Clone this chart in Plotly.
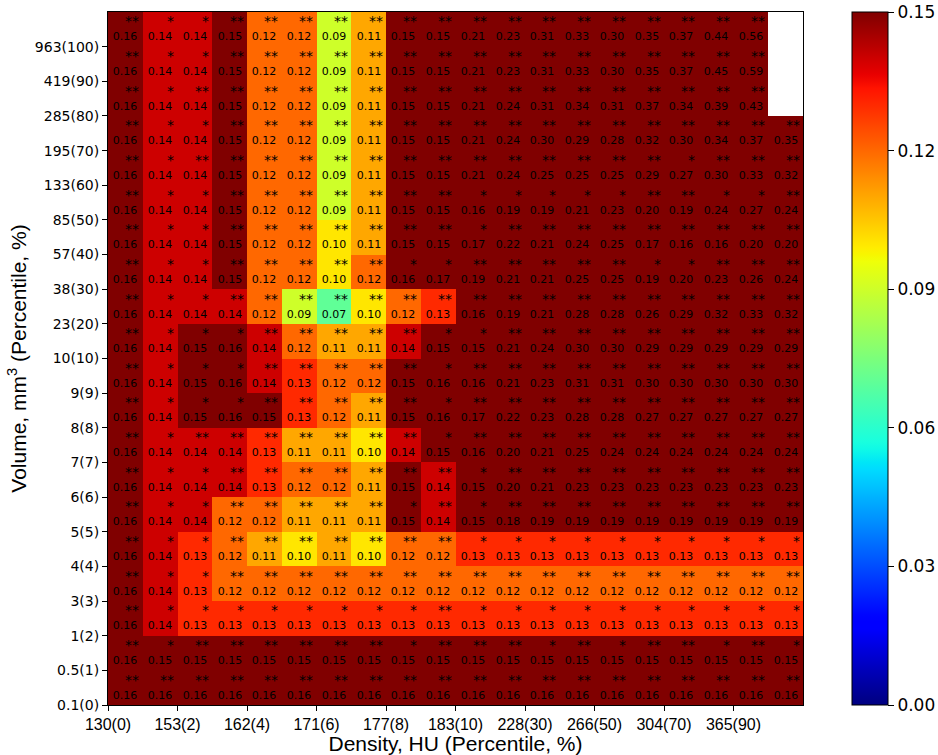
import numpy as np
import plotly.graph_objects as go

x_ticklabels = ["130(0)", "153(2)", "162(4)", "171(6)", "177(8)", "183(10)",
                "228(30)", "266(50)", "304(70)", "365(90)"]
y_ticklabels = ["0.1(0)", "0.5(1)", "1(2)", "3(3)", "4(4)", "5(5)", "6(6)", "7(7)",
                "8(8)", "9(9)", "10(10)", "23(20)", "38(30)", "57(40)", "85(50)",
                "133(60)", "195(70)", "285(80)", "419(90)", "963(100)"]

N = None
# rows listed from top (963(100)) to bottom (0.1(0))
values_top_down = [
    [0.16,0.14,0.14,0.15,0.12,0.12,0.09,0.11,0.15,0.15,0.21,0.23,0.31,0.33,0.30,0.35,0.37,0.44,0.56,N],
    [0.16,0.14,0.14,0.15,0.12,0.12,0.09,0.11,0.15,0.15,0.21,0.23,0.31,0.33,0.30,0.35,0.37,0.45,0.59,N],
    [0.16,0.14,0.14,0.15,0.12,0.12,0.09,0.11,0.15,0.15,0.21,0.24,0.31,0.34,0.31,0.37,0.34,0.39,0.43,N],
    [0.16,0.14,0.14,0.15,0.12,0.12,0.09,0.11,0.15,0.15,0.21,0.24,0.30,0.29,0.28,0.32,0.30,0.34,0.37,0.35],
    [0.16,0.14,0.14,0.15,0.12,0.12,0.09,0.11,0.15,0.15,0.21,0.24,0.25,0.25,0.25,0.29,0.27,0.30,0.33,0.32],
    [0.16,0.14,0.14,0.15,0.12,0.12,0.09,0.11,0.15,0.15,0.16,0.19,0.19,0.21,0.23,0.20,0.19,0.24,0.27,0.24],
    [0.16,0.14,0.14,0.15,0.12,0.12,0.10,0.11,0.15,0.15,0.17,0.22,0.21,0.24,0.25,0.17,0.16,0.16,0.20,0.20],
    [0.16,0.14,0.14,0.15,0.12,0.12,0.10,0.12,0.16,0.17,0.19,0.21,0.21,0.25,0.25,0.19,0.20,0.23,0.26,0.24],
    [0.16,0.14,0.14,0.14,0.12,0.09,0.07,0.10,0.12,0.13,0.16,0.19,0.21,0.28,0.28,0.26,0.29,0.32,0.33,0.32],
    [0.16,0.14,0.15,0.16,0.14,0.12,0.11,0.11,0.14,0.15,0.15,0.21,0.24,0.30,0.30,0.29,0.29,0.29,0.29,0.29],
    [0.16,0.14,0.15,0.16,0.14,0.13,0.12,0.12,0.15,0.16,0.16,0.21,0.23,0.31,0.31,0.30,0.30,0.30,0.30,0.30],
    [0.16,0.14,0.15,0.16,0.15,0.13,0.12,0.11,0.15,0.16,0.17,0.22,0.23,0.28,0.28,0.27,0.27,0.27,0.27,0.27],
    [0.16,0.14,0.14,0.14,0.13,0.11,0.11,0.10,0.14,0.15,0.16,0.20,0.21,0.25,0.24,0.24,0.24,0.24,0.24,0.24],
    [0.16,0.14,0.14,0.14,0.13,0.12,0.12,0.11,0.15,0.14,0.15,0.20,0.21,0.23,0.23,0.23,0.23,0.23,0.23,0.23],
    [0.16,0.14,0.14,0.12,0.12,0.11,0.11,0.11,0.15,0.14,0.15,0.18,0.19,0.19,0.19,0.19,0.19,0.19,0.19,0.19],
    [0.16,0.14,0.13,0.12,0.11,0.10,0.11,0.10,0.12,0.12,0.13,0.13,0.13,0.13,0.13,0.13,0.13,0.13,0.13,0.13],
    [0.16,0.14,0.13,0.12,0.12,0.12,0.12,0.12,0.12,0.12,0.12,0.12,0.12,0.12,0.12,0.12,0.12,0.12,0.12,0.12],
    [0.16,0.14,0.13,0.13,0.13,0.13,0.13,0.13,0.13,0.13,0.13,0.13,0.13,0.13,0.13,0.13,0.13,0.13,0.13,0.13],
    [0.16,0.15,0.15,0.15,0.15,0.15,0.15,0.15,0.15,0.15,0.15,0.15,0.15,0.15,0.15,0.15,0.15,0.15,0.15,0.15],
    [0.16,0.16,0.16,0.16,0.16,0.16,0.16,0.16,0.16,0.16,0.16,0.16,0.16,0.16,0.16,0.16,0.16,0.16,0.16,0.16],
]

# significance stars per cell (1 = "*", 2 = "**", 0 = none), top to bottom
stars_top_down = [
    [2,1,1,2,2,2,2,2,2,2,2,2,2,2,2,2,2,2,2,0],
    [2,1,1,2,2,2,2,2,2,2,2,2,2,2,2,2,2,2,2,0],
    [2,1,2,2,2,2,2,2,2,2,2,2,2,2,2,2,2,2,2,0],
    [2,1,1,2,2,2,2,2,2,2,2,2,2,2,2,2,2,2,2,2],
    [2,1,2,2,2,2,2,2,2,2,2,2,2,2,2,2,1,2,2,2],
    [2,1,1,2,2,2,2,2,2,2,1,1,1,1,1,2,2,1,1,2],
    [2,1,1,2,2,2,2,2,2,2,1,2,2,2,2,2,2,2,2,2],
    [2,1,1,2,2,2,2,2,1,1,2,2,2,2,2,1,1,2,2,2],
    [2,1,1,2,2,2,2,2,2,2,2,2,2,2,2,2,2,2,2,2],
    [2,1,1,1,2,2,2,2,2,1,1,2,2,2,2,2,2,2,2,2],
    [2,1,1,1,2,2,2,2,2,1,2,2,2,2,2,2,2,2,2,2],
    [2,1,1,1,2,2,2,2,2,1,2,2,2,2,2,2,2,2,2,2],
    [2,1,2,2,2,2,2,2,2,1,2,2,2,2,2,2,2,2,2,2],
    [2,1,1,2,2,2,2,2,2,2,1,2,2,2,2,2,2,2,2,2],
    [2,1,1,2,2,2,2,2,1,2,1,2,2,2,2,2,2,2,2,2],
    [2,1,1,2,2,2,2,2,2,2,1,1,1,1,1,1,1,1,1,1],
    [2,1,1,2,2,2,2,2,2,2,2,2,2,2,2,2,2,2,2,2],
    [2,1,1,1,1,1,1,1,1,2,1,1,1,1,1,1,1,1,1,1],
    [2,1,2,2,2,2,2,2,1,2,2,2,1,2,1,2,2,1,2,1],
    [2,2,2,2,2,2,2,2,2,2,2,2,2,2,2,2,2,2,2,2],
]

values = values_top_down[::-1]
stars = stars_top_down[::-1]
nrows, ncols = len(values), len(values[0])

z = np.array([[np.nan if v is None else v for v in r] for r in values], dtype=float)

NB = "\u00a0"
text = []
for r in range(nrows):
    row_t = []
    for c in range(ncols):
        v = values[r][c]
        if v is None:
            row_t.append("")
            continue
        s = stars[r][c]
        if s == 2:
            st = NB * 4 + "<span style='font-size:14px'>**</span>"
        elif s == 1:
            st = NB * 6 + "<span style='font-size:14px'>*</span>"
        else:
            st = ""
        row_t.append(st + "<br>" + f"{v:.2f}")
    text.append(row_t)

# matplotlib "jet" colormap
def jet(t):
    r = np.interp(t, [0, 0.35, 0.66, 0.89, 1], [0, 0, 1, 1, 0.5])
    g = np.interp(t, [0, 0.125, 0.375, 0.64, 0.91, 1], [0, 0, 1, 1, 0, 0])
    b = np.interp(t, [0, 0.11, 0.34, 0.65, 1], [0.5, 1, 1, 0, 0])
    return f"rgb({int(round(r*255))},{int(round(g*255))},{int(round(b*255))})"

ts = np.linspace(0, 1, 101)
jet_scale = [[float(t), jet(t)] for t in ts]

xc = np.arange(ncols) + 0.5
yc = np.arange(nrows) + 0.5

fig = go.Figure(go.Heatmap(
    z=z, x=xc, y=yc,
    text=text, texttemplate="%{text}",
    textfont=dict(family="DejaVu Sans", size=11, color="black"),
    colorscale=jet_scale, zmin=0, zmax=0.15,
    hoverongaps=False,
    colorbar=dict(
        x=744 / 695, xanchor="left", xref="paper", xpad=0, ypad=0,
        y=0, yanchor="bottom", len=1, lenmode="fraction",
        thickness=36, thicknessmode="pixels",
        outlinecolor="black", outlinewidth=1,
        tickvals=[0, 0.03, 0.06, 0.09, 0.12, 0.15],
        tickformat=".2f", ticks="outside", ticklen=6, tickcolor="black",
        tickfont=dict(family="DejaVu Sans", size=17, color="black"),
    ),
))

fig.update_layout(
    width=938, height=755,
    margin=dict(l=108, r=135, t=12, b=50, autoexpand=False),
    paper_bgcolor="white", plot_bgcolor="white",
    xaxis=dict(
        range=[0, ncols], tickmode="array",
        tickvals=list(range(0, ncols, 2)), ticktext=x_ticklabels,
        ticks="outside", ticklen=5, tickcolor="black",
        tickfont=dict(family="Liberation Sans", size=16, color="black"),
        showline=True, linecolor="black", linewidth=1, mirror=True,
        showgrid=False, zeroline=False,
        title=dict(text="Density, HU (Percentile, %)", standoff=2,
                   font=dict(family="Liberation Sans", size=21, color="black")),
    ),
    yaxis=dict(
        range=[0, nrows], tickmode="array",
        tickvals=list(range(nrows)), ticktext=y_ticklabels,
        ticks="outside", ticklen=5, tickcolor="black",
        tickfont=dict(family="DejaVu Sans", size=14, color="black"),
        showline=True, linecolor="black", linewidth=1, mirror=True,
        showgrid=False, zeroline=False,
        title=dict(text="Volume, mm<sup>3</sup> (Percentile, %)", standoff=2,
                   font=dict(family="Liberation Sans", size=21, color="black")),
    ),
)

# remove the default page margin so the figure fills the window exactly
fig.write_html(
    "out.html",
    config={"displayModeBar": False},
    post_script="document.body.style.margin='0';document.body.style.overflow='hidden';",
)
